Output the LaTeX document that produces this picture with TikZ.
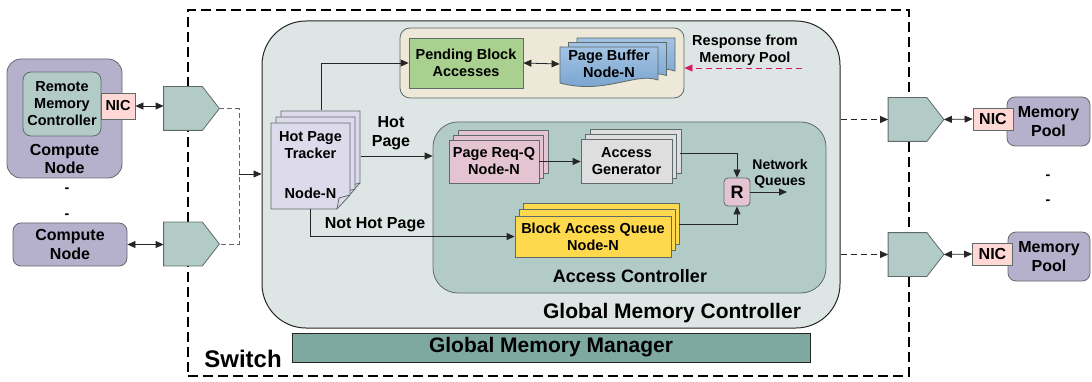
\documentclass[tikz,border=0pt]{standalone}
\usepackage{fontspec}
\setmainfont{Liberation Sans}
\usepackage{xcolor}
\usetikzlibrary{arrows.meta,shadows}

\definecolor{GmcFill}{HTML}{DDE6E5}
\definecolor{AcFill}{HTML}{B3CBC6}
\definecolor{NodeFill}{HTML}{B5B0CB}
\definecolor{NicFill}{HTML}{FFD8D6}
\definecolor{PendFill}{HTML}{EDE8D7}
\definecolor{GreenFill}{HTML}{A9D08E}
\definecolor{BufTop}{HTML}{A3C3E3}
\definecolor{BufBot}{HTML}{729FCC}
\definecolor{ReqFill}{HTML}{E4C4D0}
\definecolor{GenFill}{HTML}{DEDEDE}
\definecolor{QueueFill}{HTML}{FFD94D}
\definecolor{TrackFill}{HTML}{DDDAEC}
\definecolor{MgrFill}{HTML}{7EA9A1}
\definecolor{RespRed}{HTML}{D81B60}
\definecolor{EdgeGray}{HTML}{5F6B69}

\newcommand{\fsA}{\fontsize{14.5}{17}\selectfont}
\newcommand{\fsB}{\fontsize{16}{18.5}\selectfont}
\newcommand{\fsC}{\fontsize{18}{20}\selectfont}
\newcommand{\fsD}{\fontsize{21}{23}\selectfont}
\newcommand{\fsE}{\fontsize{14}{16}\selectfont}

\tikzset{
  box/.style={draw=EdgeGray, line width=0.8pt},
  pagestack/.style={box, fill=#1, double copy shadow={shadow xshift=4.5pt, shadow yshift=5pt, draw=EdgeGray, fill=#1, line width=0.8pt}},
  gate/.style={minimum width=55pt, minimum height=43pt},
  gateline/.style={draw=EdgeGray, fill=AcFill, line width=0.8pt},
}

\begin{document}
\begin{tikzpicture}[x=1pt, y=-1pt, line width=0.8pt,
      every node/.append style={font=\bfseries\fsA, align=center, inner sep=0pt},
      arr/.style={-{Triangle[length=8pt,width=7pt]}, draw=black!85},
      dbl/.style={{Triangle[length=8pt,width=7pt]}-{Triangle[length=8pt,width=7pt]}, draw=black!85},
      dashlink/.style={draw=black!60, dash pattern=on 5pt off 3pt},
      dasharr/.style={arr, dash pattern=on 6pt off 4pt},
      resparr/.style={-{Triangle[length=8pt,width=7pt]}, draw=RespRed, dash pattern=on 6pt off 4pt},
      switchbox/.style={draw=black, line width=1.4pt, dash pattern=on 10pt off 5pt}]
    \useasboundingbox (0,0) rectangle (1092,382);

    \node (switch) [switchbox, minimum width=721pt, minimum height=366pt] at (548.5,193) {};
    \node (swlabel) [font=\bfseries\fontsize{24}{26}\selectfont] at (243,359) {Switch};

    \node (gmc) [draw=black!85, fill=GmcFill, rounded corners=44pt, line width=1pt,
                 minimum width=578pt, minimum height=307pt] at (551,174.5) {};
    \node (gmclabel) [font=\bfseries\fsD] at (672,313) {Global Memory Controller};
    \node (gmm) [draw=black!85, fill=MgrFill, minimum width=518pt, minimum height=29pt,
                 font=\bfseries\fsD] at (551,347.5) {Global Memory Manager};

    % pending accesses and page buffer
    \node (pendarea) [box, fill=PendFill, rounded corners=10pt, minimum width=284pt, minimum height=70pt] at (542,63) {};
    \node (pba) [box, fill=GreenFill, minimum width=114pt, minimum height=50pt] at (466,63) {Pending Block\\Accesses};
    \foreach \s in {2,1,0}
      \draw[box, top color=BufTop, bottom color=BufBot, shift={(8.5*\s,-4.5*\s)}]
        (560,47) -- (658,47) -- (658,80) .. controls (635,72) and (605,95) .. (560,83) -- cycle;
    \node (pbuf) [minimum width=98pt] at (609,64) {Page Buffer\\Node-N};
    \draw[dbl] (pba.east) -- (pbuf.west);
    \node (resp) at (745,50) {Response from\\Memory Pool};
    \coordinate (respin) at (802,68);
    \draw[resparr] (respin) -- (pendarea.east |- respin);

    % hot page tracker
    \foreach \s in {2,1,0} {
      \draw[box, fill=TrackFill, shift={(5*\s,-6*\s)}]
        (271,123) -- (350,123) -- (350,195) -- (337,209) -- (271,209) -- cycle;
      \draw[box, shift={(5*\s,-6*\s)}] (350,195) -- (339,198) -- (337,209);
    }
    \node (tracker) [minimum width=79pt, minimum height=86pt] at (310.5,166) {};
    \node (trkname) at (310.5,145) {Hot Page\\Tracker};
    \node (trknode) at (310.5,193) {Node-N};
    \node (hotlbl) [font=\bfseries\fsB] at (391,133) {Hot\\Page};
    \node (nothotlbl) [font=\bfseries\fsB] at (375,225) {Not Hot Page};

    % access controller
    \node (actrl) [box, fill=AcFill, rounded corners=25pt, minimum width=393pt, minimum height=171pt] at (629.5,207.5) {};
    \node (aclabel) [font=\bfseries\fsC] at (630,276) {Access Controller};
    \node (reqq) [pagestack=ReqFill, minimum width=90pt, minimum height=43pt] at (494,161.5) {Page Req-Q\\Node-N};
    \node (agen) [pagestack=GenFill, minimum width=91pt, minimum height=44pt] at (626.5,161.5) {Access\\Generator};
    \node (rmux) [box, fill=ReqFill, rounded corners=4pt, minimum width=26pt, minimum height=28pt,
                  font=\bfseries\fsC] at (737,192) {R};
    \node (baq) [box, fill=QueueFill, double copy shadow={shadow xshift=4pt, shadow yshift=6.5pt, draw=EdgeGray, fill=QueueFill, line width=0.8pt},
                 minimum width=156pt, minimum height=41pt] at (593,236.5) {Block Access Queue\\Node-N};
    \node (nqlabel) [font=\bfseries\fsE] at (780,174) {Network\\Queues};
    \coordinate (nqout) at (787,192);

    \draw[arr] ([xshift=10.5pt,yshift=13pt]tracker.north) |- (pba.west);
    \draw[arr] ([xshift=11pt,yshift=10pt]tracker.east) -- ([yshift=10pt]tracker.east -| actrl.west);
    \draw[arr] (tracker.south) |- (baq.west);
    \draw[arr] (reqq.east) -- (agen.west);
    \draw[arr] ([xshift=8pt,yshift=8pt]agen.east) -| (rmux.north);
    \draw[arr] ([xshift=8pt,yshift=12.5pt]baq.east) -| (rmux.south);
    \draw[arr] (rmux.east) -- (nqout);

    % gateways
    \node (gw1) [gate] at (191.5,108.5) {};
    \node (gw2) [gate] at (191.5,244) {};
    \node (gw3) [gate] at (916,119.5) {};
    \node (gw4) [gate] at (916,254.5) {};
    \foreach \g in {gw1,gw2,gw3,gw4}
      \draw[gateline] (\g.north west) -- ([xshift=-17pt]\g.north east) -- (\g.east)
        -- ([xshift=-17pt]\g.south east) -- (\g.south west) -- cycle;

    % compute side
    \node (cn1) [box, fill=NodeFill, rounded corners=14pt, minimum width=115pt, minimum height=119pt] at (64.5,118.5) {};
    \node (cn1label) [font=\bfseries\fsB] at (64.5,159) {Compute\\Node};
    \node (rmc) [box, fill=AcFill, rounded corners=8pt, minimum width=78pt, minimum height=64pt] at (62,104) {Remote\\Memory\\Controller};
    \node (nic1) [box, fill=NicFill, minimum width=34pt, minimum height=26pt] at (118,106) {NIC};
    \node (cdot1) at (67,190) {-};
    \node (cdot2) at (67,216) {-};
    \node (cn2) [box, fill=NodeFill, rounded corners=8pt, minimum width=114pt, minimum height=43pt,
                 font=\bfseries\fsB] at (70,244.5) {Compute\\Node};
    \draw[dbl] (nic1.east) -- (nic1.east -| gw1.west);
    \draw[dbl] (cn2.east) -- (cn2.east -| gw2.west);
    \coordinate (merge) at (239,174);
    \draw[dashlink] (gw1.east) -| (merge) |- (gw2.east);
    \draw[arr] (merge) -- (merge -| gmc.west);

    % memory side
    \draw[dasharr] (gw3.west -| gmc.east) -- (gw3.west);
    \draw[dasharr] (gw4.west -| gmc.east) -- (gw4.west);
    \node (mp1) [box, fill=NodeFill, rounded corners=8pt, minimum width=83pt, minimum height=49pt,
                 font=\bfseries\fsB] at (1048.5,121.5) {Memory\\Pool};
    \node (mp2) [box, fill=NodeFill, rounded corners=8pt, minimum width=82pt, minimum height=49pt,
                 font=\bfseries\fsB] at (1049,256.5) {Memory\\Pool};
    \node (nic3) [box, fill=NicFill, minimum width=40pt, minimum height=22pt, font=\bfseries\fsB] at (993,119) {NIC};
    \node (nic4) [box, fill=NicFill, minimum width=40pt, minimum height=22pt, font=\bfseries\fsB] at (992.5,254) {NIC};
    \draw[dbl] (gw3.east) -- (nic3.west);
    \draw[dbl] (gw4.east) -- (nic4.west);
    \node (mdot1) at (1048,177) {-};
    \node (mdot2) at (1048,202) {-};
\end{tikzpicture}
\end{document}
